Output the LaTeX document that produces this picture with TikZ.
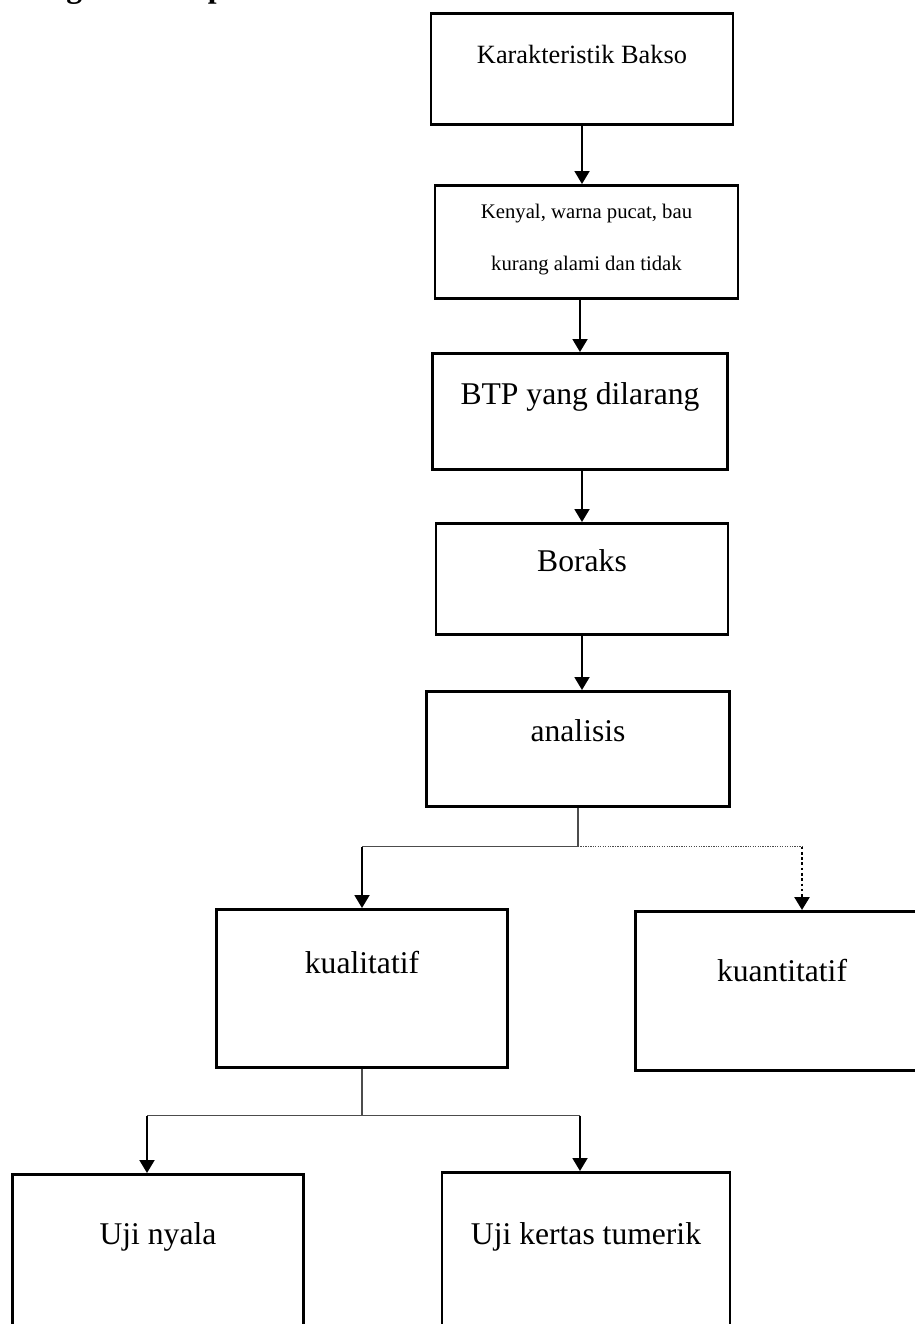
\documentclass[tikz,border=0pt]{standalone}
\usepackage{fontspec}
\setmainfont{Liberation Serif}
\usetikzlibrary{arrows.meta,calc}
\tikzset{
  box/.style={draw=black,line width=1.5pt,fill=white,anchor=north,align=center,inner sep=0pt,font=\fontsize{18}{21.6}\selectfont},
  flow/.style={-{Triangle[length=.26cm,width=.3cm]},line width=1.1pt,draw=black},
  dotflow/.style={flow,line width=1.5pt,dash pattern=on 1.5pt off 1.5pt},
  link/.style={line width=.7pt,draw=black!70},
  dotlink/.style={link,dash pattern=on .7pt off .7pt}
}

\begin{document}
\begin{tikzpicture}[x=0.02cm,y=-0.02cm]
  \useasboundingbox (0,0) rectangle (915,1324);
  \node[anchor=base west,font=\fontsize{18}{21.6}\selectfont\bfseries] (judul) at (-26,-2) {Kerangka Konsep};
  \node[box,minimum width=6.04cm,text height=1.0cm,text depth=1.22cm,font=\fontsize{15}{18}\selectfont] (kar) at (582,12) {Karakteristik Bakso};
  \node[box,minimum width=6.06cm,text height=1.7cm,text depth=.56cm,font=\fontsize{11.8}{29.6}\selectfont] (ken) at (586.5,184) {Kenyal, warna pucat, bau\\kurang alami dan tidak};
  \node[box,minimum width=5.9cm,text height=1.02cm,text depth=1.3cm] (btp) at (580,352) {BTP yang dilarang};
  \node[box,minimum width=5.84cm,text height=.96cm,text depth=1.26cm] (bor) at (582,522) {Boraks};
  \node[box,minimum width=6.06cm,text height=1.0cm,text depth=1.3cm] (ana) at (578,690) {analisis};
  \node[box,minimum width=5.82cm,text height=1.28cm,text depth=1.88cm] (kual) at (362,908) {kualitatif};
  \node[box,minimum width=5.86cm,text height=1.4cm,text depth=1.78cm] (kuan) at (782,910) {kuantitatif};
  \node[box,minimum width=5.82cm,text height=1.4cm,text depth=2.0cm] (nyala) at (158,1173) {Uji nyala};
  \node[box,minimum width=5.76cm,text height=1.44cm,text depth=2.0cm] (kertas) at (586,1171) {Uji kertas tumerik};
  % alur utama
  \draw[flow] (kar.south) -- (kar.south |- ken.north);
  \draw[flow] (btp.north |- ken.south) -- (btp.north);
  \draw[flow] (bor.north |- btp.south) -- (bor.north);
  \draw[flow] (bor.south) -- (bor.south |- ana.north);
  % cabang analisis
  \draw[link] (ana.south) -- ++(0,39) coordinate (j1);
  \coordinate (kuanIn) at ([xshift=.4cm]kuan.north);
  \draw[link] (j1) -- (j1 -| kual.north);
  \draw[dotlink] (j1) -- (j1 -| kuanIn);
  \draw[flow] (j1 -| kual.north) -- (kual.north);
  \draw[dotflow] (j1 -| kuanIn) -- (kuanIn);
  % cabang kualitatif
  \draw[link] (kual.south) -- ++(0,47) coordinate (j2);
  \coordinate (nyalaIn) at ([xshift=-.22cm]nyala.north);
  \coordinate (kertasIn) at ([xshift=-.12cm]kertas.north);
  \draw[link] (j2 -| nyalaIn) -- (j2 -| kertasIn);
  \draw[flow] (j2 -| nyalaIn) -- (nyalaIn);
  \draw[flow] (j2 -| kertasIn) -- (kertasIn);
\end{tikzpicture}
\end{document}
